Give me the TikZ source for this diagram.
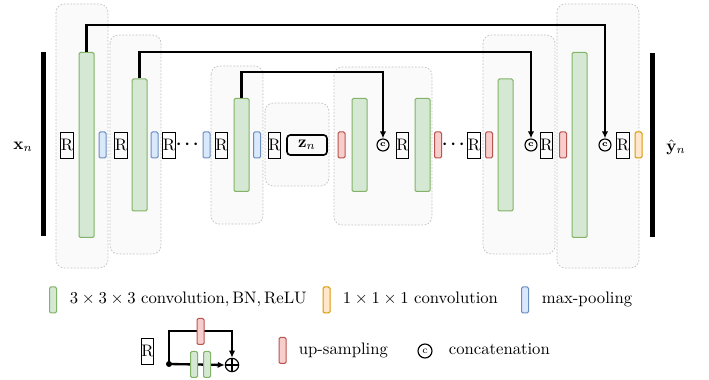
\documentclass[tikz,border=0pt]{standalone}
\usepackage{amsmath}
\usetikzlibrary{arrows.meta}

\definecolor{convfill}{HTML}{D5E8D4}
\definecolor{convline}{HTML}{82B366}
\definecolor{poolfill}{HTML}{DAE8FC}
\definecolor{poolline}{HTML}{6C8EBF}
\definecolor{upfill}{HTML}{F8CECC}
\definecolor{upline}{HTML}{B85450}
\definecolor{onefill}{HTML}{FFE6CC}
\definecolor{oneline}{HTML}{D79B00}

\tikzset{
  blk/.style={rectangle, draw, inner sep=0pt, line width=0.6pt, rounded corners=0.8pt},
  conv/.style={blk, fill=convfill, draw=convline, minimum width=9pt, minimum height=#1},
  pool/.style={blk, fill=poolfill, draw=poolline, minimum width=4.2pt, minimum height=15.6pt},
  upsamp/.style={blk, fill=upfill, draw=upline, minimum width=4.2pt, minimum height=15.6pt},
  onebyone/.style={blk, fill=onefill, draw=oneline, minimum width=4.2pt, minimum height=15.6pt},
  res/.style={rectangle, draw, inner sep=0pt, line width=0.5pt, minimum width=7.2pt, minimum height=15.6pt},
  cat/.style={circle, draw, line width=0.7pt, inner sep=0pt, minimum size=7.2pt, font=\fontsize{5}{5}\selectfont\bfseries},
  stage/.style={draw=black!25, fill=black!2, dash pattern=on 1pt off 1pt, line width=0.4pt, rounded corners=5pt},
  skipline/.style={line width=1.4pt, -{Latex[length=4.2pt,width=3.8pt]}},
}

\begin{document}
\begin{tikzpicture}[x=0.6pt, y=-0.6pt]
  \useasboundingbox (0,0) rectangle (709,380);

  % Stages
  \draw[stage] (56,4) rectangle (108,268);
  \draw[stage] (110,35) rectangle (161,254);
  \draw[stage] (211,66) rectangle (263,224);
  \draw[stage] (265,103) rectangle (329,186);
  \draw[stage] (334,67) rectangle (432,225);
  \draw[stage] (483,35) rectangle (555,254);
  \draw[stage] (557,4) rectangle (639,268);

  % Input / output
  \node (xin) at (23,147) {$\mathbf{x}_n$};
  \draw[line width=3pt] (43.5,52) -- (43.5,236);
  \draw[line width=3pt] (652.5,53) -- (652.5,237);
  \node (yout) at (676,147) {$\hat{\mathbf{y}}_n$};

  % Encoder
  \node[res] (r1) at (67,145) {R};
  \node[conv=111pt] (g1) at (86.5,145) {};
  \node[pool] (p1) at (102.5,145) {};
  \node[res] (r2) at (121,145) {R};
  \node[conv=79.2pt] (g2) at (139.5,145) {};
  \node[pool] (p2) at (154.5,145) {};
  \node[res] (r3) at (169,145) {R};
  \node (dl) at (189,145) {$\boldsymbol{\cdots}$};
  \node[pool] (p3) at (206.5,145) {};
  \node[res] (r4) at (221.5,145) {R};
  \node[conv=55.8pt] (g3) at (241.5,145) {};
  \node[pool] (p4) at (257,145) {};

  % Bottleneck
  \node[res] (r5) at (274.5,145) {R};
  \node[draw, line width=1pt, rounded corners=2pt, minimum width=24pt, minimum height=12pt, inner sep=0pt] (z) at (307,145) {$\mathbf{z}_n$};

  % Decoder
  \node[upsamp] (u1) at (341.5,145) {};
  \node[conv=55.8pt] (g4) at (359.5,145) {};
  \node[cat] (c1) at (383,145) {c};
  \node[res] (r6) at (402.5,145) {R};
  \node[conv=55.8pt] (g5) at (422.5,145) {};
  \node[upsamp] (u2) at (438,145) {};
  \node (dr) at (455,145) {$\boldsymbol{\cdots}$};
  \node[res] (r7) at (474,145) {R};
  \node[upsamp] (u3) at (489,145) {};
  \node[conv=79.2pt] (g6) at (505.5,145) {};
  \node[cat] (c2) at (531,145) {c};
  \node[res] (r8) at (546.5,145) {R};
  \node[upsamp] (u4) at (563,145) {};
  \node[conv=111pt] (g7) at (579.5,145) {};
  \node[cat] (c3) at (605,145) {c};
  \node[res] (r9) at (623,145) {R};
  \node[onebyone] (o1) at (638.5,145) {};

  % Skip connections
  \draw[skipline] (g1.north) -- (g1.north |- 0,25) -| (c3.north);
  \draw[skipline] (g2.north) -- (g2.north |- 0,52) -| (c2.north);
  \draw[skipline] (g3.north) -- (g3.north |- 0,72) -| (c1.north);

  % Legend
  \node[conv=15.6pt, minimum width=4.2pt] (kconv) at (53,300) {};
  \node[anchor=mid west] (tconv) at (64,300) {$3\times3\times3\ \mathrm{convolution},\mathrm{BN},\mathrm{ReLU}$};
  \node[onebyone] (kone) at (326.5,300) {};
  \node[anchor=mid west] (tone) at (337,300) {$1\times1\times1$ convolution};
  \node[pool] (kpool) at (525,300) {};
  \node[anchor=mid west] (tpool) at (536,300) {max-pooling};

  \node[res] (kres) at (147.5,351) {R};
  \coordinate (rin) at (169,364);
  \node[circle, draw, line width=0.7pt, inner sep=0pt, minimum size=8pt] (add) at (232,365) {};
  \draw[line width=0.7pt] (add.north) -- (add.south) (add.west) -- (add.east);
  \fill (rin) circle (1.8pt);
  \draw[skipline] (rin) -- (rin |- 0,331) -| (add.north);
  \draw[skipline] (rin) -- (add.west);
  \node[upsamp] (kup1) at (200.5,331.5) {};
  \node[conv=15.6pt, minimum width=4.2pt] (kg1) at (194,364.5) {};
  \node[conv=15.6pt, minimum width=4.2pt] (kg2) at (207,364.5) {};

  \node[upsamp] (kup) at (282.5,350.5) {};
  \node[anchor=mid west] (tup) at (293,351) {up-sampling};
  \node[cat, minimum size=8.4pt, font=\fontsize{6}{6}\selectfont] (kcat) at (425,351) {c};
  \node[anchor=mid west] (tcat) at (443,351) {concatenation};
\end{tikzpicture}
\end{document}
